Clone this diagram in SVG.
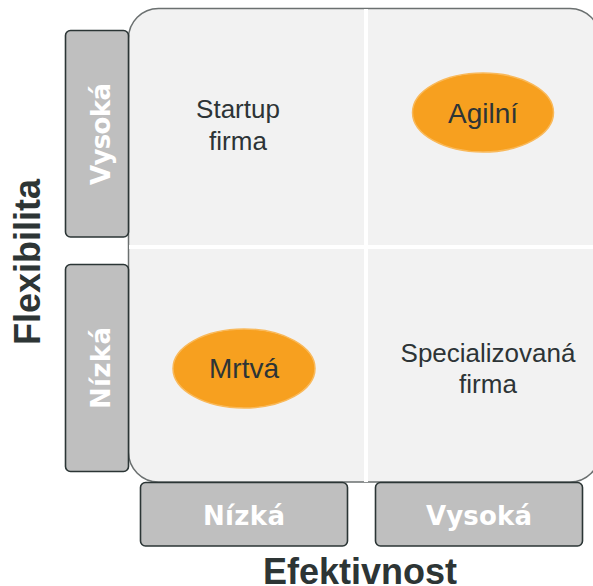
<svg xmlns="http://www.w3.org/2000/svg" width="593" height="586" viewBox="0 0 593 586">
<style>
.axisbox{fill:#bfbfbf;stroke:#2b3535;stroke-width:1.6}
.axislbl{font-family:"DejaVu Sans","Liberation Sans",sans-serif;font-weight:bold;font-size:26px;fill:#ffffff;text-anchor:middle}
.title{font-family:"Liberation Sans",Arial,sans-serif;font-weight:bold;font-size:36px;fill:#2d3535;text-anchor:middle}
.qlbl{font-family:"Liberation Sans",Arial,sans-serif;font-size:26px;fill:#2d3436;text-anchor:middle}
.ell{fill:#f7a01f;stroke:#f9b95a;stroke-width:1.5}
.elbl{font-family:"Liberation Sans",Arial,sans-serif;font-size:28px;fill:#2d3436;text-anchor:middle}
.div{stroke:#ffffff;stroke-width:4}
</style>
<g id="matrix">
<rect x="128.5" y="8.5" width="471.5" height="473.5" rx="30" ry="30" fill="#f2f2f2" stroke="#6b7070" stroke-width="1.5"/>
<line class="div" x1="366" y1="9" x2="366" y2="482"/>
<line class="div" x1="129" y1="247" x2="600" y2="247"/>
</g>
<g id="y-high">
<rect class="axisbox" x="65.5" y="30.5" width="63" height="206.5" rx="5"/>
<text class="axislbl" transform="translate(109.5,134) rotate(-90)" textLength="102" lengthAdjust="spacing">Vysoká</text>
</g>
<g id="y-low">
<rect class="axisbox" x="65.5" y="264.5" width="63" height="207" rx="5"/>
<text class="axislbl" transform="translate(109.5,368) rotate(-90)" textLength="82" lengthAdjust="spacing">Nízká</text>
</g>
<g id="x-low">
<rect class="axisbox" x="140.5" y="482.5" width="207" height="63.5" rx="5"/>
<text class="axislbl" x="244" y="525" textLength="82" lengthAdjust="spacing">Nízká</text>
</g>
<g id="x-high">
<rect class="axisbox" x="375.5" y="482.5" width="207" height="63.5" rx="5"/>
<text class="axislbl" x="479" y="525" textLength="106" lengthAdjust="spacing">Vysoká</text>
</g>
<g id="y-title">
<text class="title" transform="translate(40,262) rotate(-90)">Flexibilita</text>
</g>
<g id="x-title">
<text class="title" x="360" y="584">Efektivnost</text>
</g>
<g id="startup">
<text class="qlbl" x="238" y="118">Startup</text>
<text class="qlbl" x="238" y="150">firma</text>
</g>
<g id="specializovana">
<text class="qlbl" x="488" y="362">Specializovaná</text>
<text class="qlbl" x="488" y="393">firma</text>
</g>
<g id="agilni">
<ellipse class="ell" cx="483" cy="112.5" rx="70.5" ry="39.5"/>
<text class="elbl" x="483" y="123">Agilní</text>
</g>
<g id="mrtva">
<ellipse class="ell" cx="244" cy="368.5" rx="71" ry="39.5"/>
<text class="elbl" x="244" y="378">Mrtvá</text>
</g>
<g id="connectors"/>
</svg>
